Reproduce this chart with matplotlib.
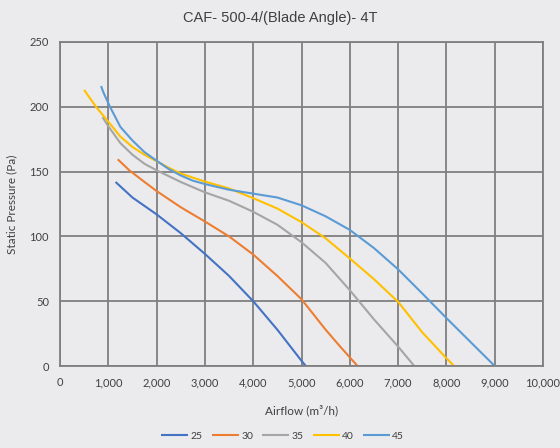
import matplotlib.pyplot as plt
import numpy as np

# blade angle curves: airflow (m3/h) vs static pressure (Pa)
angles = ["25", "30", "35", "40", "45"]
colors = ["#4472C4", "#ED7D31", "#A5A5A5", "#FFC000", "#5B9BD5"]

flow_25 = [1150, 1500, 2000, 2500, 3000, 3500, 4000, 4500, 4750, 5000, 5090]
pres_25 = [142, 130, 117, 102.5, 86.5, 69.5, 50, 28, 16, 4, 0]

flow_30 = [1195, 1435, 1750, 2000, 2500, 3000, 3500, 4000, 4500, 5000, 5500, 5800, 6160]
pres_30 = [159.5, 151, 142, 135, 122.5, 111.5, 100, 86, 69.5, 51.5, 28, 15, 0]

flow_35 = [880, 1000, 1250, 1500, 1750, 2000, 2500, 3000, 3500, 4000, 4500, 5000, 5500, 6000, 6500, 7000, 7335]
pres_35 = [192, 185, 172, 163, 156, 151, 142, 134, 127.5, 119, 109, 95.5, 79.5, 58.5, 36, 15, 0]

flow_40 = [500, 745, 1000, 1250, 1500, 1750, 2000, 2250, 2500, 3000, 3500, 4000, 4500, 5000, 5500, 6000, 6500, 7000, 7500, 8000, 8160]
pres_40 = [213, 200, 188.5, 177, 169, 163, 158, 153, 148.5, 142.3, 137, 129.5, 121.5, 111, 98.5, 83, 67, 49.5, 26, 6, 0]

flow_45 = [850, 900, 1035, 1250, 1500, 1750, 2000, 2250, 2500, 2750, 3000, 3500, 4000, 4500, 5000, 5500, 6000, 6500, 7000, 7500, 8000, 8500, 9000]
pres_45 = [216, 211, 200, 184.5, 174, 165, 158.4, 152, 147, 143, 140.4, 136, 133, 130, 124, 115.5, 105, 91, 74.6, 56, 37, 18.5, 0]

flows = [flow_25, flow_30, flow_35, flow_40, flow_45]
pressures = [pres_25, pres_30, pres_35, pres_40, pres_45]

x_ticks = np.arange(0, 10001, 1000)
y_ticks = np.arange(0, 251, 50)

bg = "#EBEBED"
fig = plt.figure(figsize=(5.6, 4.48), dpi=100, facecolor=bg)
ax = fig.add_axes([60 / 560, 1 - 366 / 448, 483 / 560, 324 / 448], facecolor=bg)

for f, p, c, lab in zip(flows, pressures, colors, angles):
    ax.plot(f, p, color=c, lw=1.5, label=lab, solid_capstyle="butt", solid_joinstyle="round")

ax.set_xlim(0, 10000)
ax.set_ylim(0, 250)
ax.set_xticks(x_ticks)
ax.set_yticks(y_ticks)
ax.set_xticklabels([f"{v:,}" for v in x_ticks], fontfamily="Lato", fontsize=8, color="#404040")
ax.set_yticklabels([str(v) for v in y_ticks], fontfamily="Lato", fontsize=8, color="#404040")
ax.tick_params(length=0, pad=8)
ax.grid(True, color="#7F7F7F", lw=1.3)
ax.set_axisbelow(True)
for s in ax.spines.values():
    s.set_color("#7F7F7F")
    s.set_linewidth(1.3)

ax.set_xlabel("Airflow (m³/h)", fontfamily="Lato", fontsize=8.5, color="#404040", labelpad=12)
ax.set_ylabel("Static Pressure (Pa)", fontfamily="Lato", fontsize=8.5, color="#404040", labelpad=9)
fig.text(0.5, 1 - 18 / 448, "CAF- 500-4/(Blade Angle)- 4T", ha="center", va="center",
         fontfamily="Liberation Sans", fontsize=10.5, color="#404040")

leg = fig.legend(loc="center", bbox_to_anchor=(0.505, 1 - 436 / 448), ncol=5, frameon=False,
                 prop={"family": "Lato", "size": 7.5}, handlelength=2.6, handletextpad=0.2,
                 columnspacing=0.9, labelcolor="#404040")

fig.savefig("out.png", dpi=100, facecolor=bg)
